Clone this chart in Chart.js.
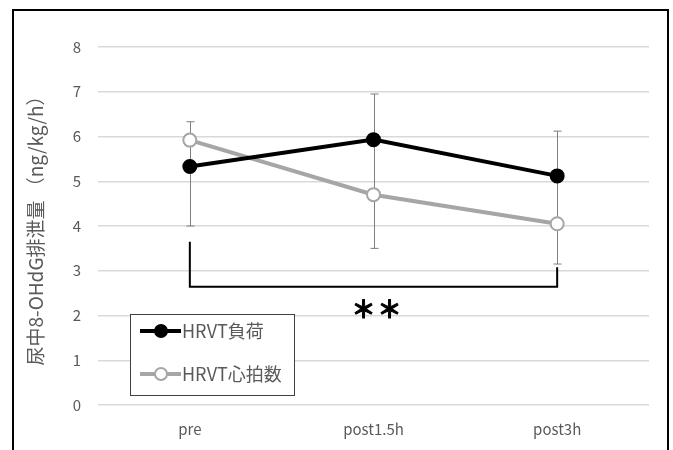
<!DOCTYPE html>
<html>
<head>
<meta charset="utf-8">
<script src="https://cdn.jsdelivr.net/npm/chart.js@4"></script>
<style>
  body { margin: 0; background: #fff; }
  #wrap { width: 673px; height: 450px; }
</style>
</head>
<body>
<div id="wrap"><canvas id="ohdgChart" width="673" height="450"></canvas></div>
<script>
const labels = ['pre', 'post1.5h', 'post3h'];
const hrvtLoad = [5.33, 5.93, 5.12];
const hrvtHr = [5.92, 4.70, 4.05];
// error bar ends
const errHigh = [6.33, 6.95, 6.12];
const errLow = [4.0, 3.5, 3.15];
// significance bracket pre vs post3h
const sigLeftTop = 3.65;
const sigRightTop = 3.08;
const sigBase = 2.64;
const sigMark = '＊';

const FONT = "'Noto Sans CJK JP', 'Noto Sans', sans-serif";
const ctx = document.getElementById('ohdgChart').getContext('2d');

const extras = {
  id: 'extras',
  beforeDatasetsDraw(chart) {
    const c = chart.ctx, x = chart.scales.x, y = chart.scales.y;
    c.save();
    c.strokeStyle = '#7f7f7f';
    c.lineWidth = 1;
    labels.forEach((l, i) => {
      const px = Math.round(x.getPixelForValue(i)) + 0.5;
      const top = y.getPixelForValue(errHigh[i]);
      const bot = y.getPixelForValue(errLow[i]);
      c.beginPath();
      c.moveTo(px, top); c.lineTo(px, bot);
      c.moveTo(px - 4, top); c.lineTo(px + 4, top);
      c.moveTo(px - 4, bot); c.lineTo(px + 4, bot);
      c.stroke();
    });
    c.restore();
  },
  afterDraw(chart) {
    const c = chart.ctx, x = chart.scales.x, y = chart.scales.y;
    c.save();
    // significance bracket
    const x0 = x.getPixelForValue(0), x1 = x.getPixelForValue(2);
    c.strokeStyle = '#000';
    c.lineWidth = 2;
    c.beginPath();
    c.moveTo(x0, y.getPixelForValue(sigLeftTop));
    c.lineTo(x0, y.getPixelForValue(sigBase));
    c.lineTo(x1, y.getPixelForValue(sigBase));
    c.lineTo(x1, y.getPixelForValue(sigRightTop));
    c.stroke();
    c.fillStyle = '#000';
    c.font = 'bold 24px ' + FONT;
    c.textAlign = 'center';
    c.textBaseline = 'middle';
    c.lineWidth = 1;
    const sx = x.getPixelForValue(1) + 3, sy = y.getPixelForValue(sigBase) + 22;
    [-13, 13].forEach(dx => {
      c.fillText(sigMark, sx + dx, sy);
      c.strokeText(sigMark, sx + dx, sy);
    });

    // legend box
    const lx = 130, ly = 314, lw = 164, lh = 81;
    c.fillStyle = '#fff';
    c.fillRect(lx, ly, lw, lh);
    c.strokeStyle = '#404040';
    c.lineWidth = 1;
    c.strokeRect(lx + 0.5, ly + 0.5, lw, lh);
    chart.data.datasets.forEach((ds, i) => {
      const ry = ly + 17 + i * 43;
      c.strokeStyle = ds.borderColor;
      c.lineWidth = 4;
      c.beginPath();
      c.moveTo(140, ry); c.lineTo(181, ry);
      c.stroke();
      c.beginPath();
      c.arc(161, ry, 6, 0, Math.PI * 2);
      c.fillStyle = ds.pointBackgroundColor;
      c.fill();
      c.lineWidth = 2;
      c.strokeStyle = ds.pointBorderColor;
      c.stroke();
      c.fillStyle = '#595959';
      c.font = '18px ' + FONT;
      c.textAlign = 'left';
      c.textBaseline = 'middle';
      c.fillText(ds.label, 182, ry);
    });

    // outer frame
    c.strokeStyle = '#000';
    c.lineWidth = 2;
    c.strokeRect(13, 10, 655, 460);
    c.restore();
  }
};

new Chart(ctx, {
  type: 'line',
  data: {
    labels: labels,
    datasets: [{
      label: 'HRVT負荷',
      data: hrvtLoad,
      borderColor: '#000000',
      borderWidth: 4,
      pointRadius: 6.5,
      pointBackgroundColor: '#000000',
      pointBorderColor: '#000000',
      pointBorderWidth: 2,
      tension: 0
    }, {
      label: 'HRVT心拍数',
      data: hrvtHr,
      borderColor: '#a6a6a6',
      borderWidth: 4,
      pointRadius: 6.5,
      pointBackgroundColor: '#ffffff',
      pointBorderColor: '#a6a6a6',
      pointBorderWidth: 2,
      tension: 0
    }]
  },
  options: {
    responsive: false,
    animation: false,
    layout: { padding: { top: 47, right: 24, bottom: 0, left: 0 } },
    plugins: {
      legend: { display: false },
      tooltip: { enabled: false }
    },
    scales: {
      x: {
        offset: true,
        grid: { display: false, drawTicks: false },
        border: { display: false },
        ticks: { color: '#595959', font: { family: FONT, size: 15 }, padding: 15 },
        afterFit: s => { s.height = 45; }
      },
      y: {
        min: 0,
        max: 8,
        ticks: { stepSize: 1, color: '#595959', font: { family: FONT, size: 15 }, padding: 17 },
        grid: { color: '#d9d9d9', lineWidth: 1.5, drawTicks: false },
        border: { display: false },
        title: {
          display: true,
          text: '尿中8-OHdG排泄量 （ng/kg/h）',
          color: '#595959',
          font: { family: FONT, size: 19 },
          padding: { top: 24, bottom: 0 }
        },
        afterFit: s => { s.width = 98; }
      }
    }
  },
  plugins: [extras]
});
</script>
</body>
</html>
